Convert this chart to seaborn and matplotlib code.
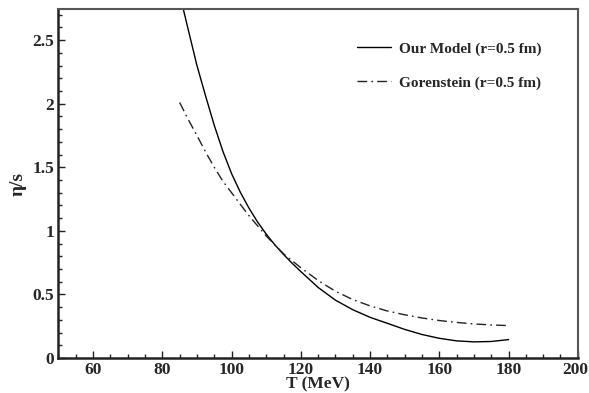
import numpy as np
import pandas as pd
import matplotlib
matplotlib.use("Agg")
import matplotlib.pyplot as plt
import matplotlib.transforms as mtransforms
from matplotlib.ticker import MultipleLocator
import seaborn as sns

# Data
T_model = [85, 86, 87.5, 90, 92.5, 95, 97.5, 100, 102.5, 105, 107.5, 110, 112.5,
           115, 117.5, 120, 125, 130, 135, 140, 145, 150, 155, 160, 165, 170,
           175, 180]
eta_model = [2.85, 2.75, 2.58, 2.30, 2.06, 1.83, 1.625, 1.45, 1.305, 1.18, 1.07,
             0.975, 0.89, 0.815, 0.745, 0.68, 0.555, 0.455, 0.38, 0.32, 0.273,
             0.225, 0.185, 0.155, 0.135, 0.127, 0.13, 0.145]

T_gor = [85, 87.5, 90, 92.5, 95, 97.5, 100, 105, 110, 115, 120, 125, 130, 135,
         140, 145, 150, 155, 160, 165, 170, 175, 180]
eta_gor = [2.01, 1.875, 1.75, 1.62, 1.50, 1.39, 1.30, 1.12, 0.96, 0.82, 0.71,
           0.61, 0.525, 0.46, 0.41, 0.37, 0.34, 0.315, 0.295, 0.28, 0.268,
           0.26, 0.255]

label_model = "Our Model (r=0.5 fm)"
label_gor = "Gorenstein (r=0.5 fm)"

df = pd.concat([
    pd.DataFrame({"T": T_model, "eta": eta_model, "series": label_model}),
    pd.DataFrame({"T": T_gor, "eta": eta_gor, "series": label_gor}),
])

sns.set_style("ticks")
plt.rcParams["font.family"] = ["Liberation Serif", "DejaVu Serif"]
plt.rcParams["font.weight"] = "bold"

fig = plt.figure(figsize=(5.89, 3.93), dpi=100)
ax = fig.add_axes([0.0993, 0.089, 0.8817, 0.888])

sns.lineplot(data=df, x="T", y="eta", hue="series", style="series",
             palette={label_model: "black", label_gor: "#222222"},
             dashes={label_model: "", label_gor: (7, 3, 1.2, 3)},
             linewidth=1.0, ax=ax, sort=False, estimator=None)

ax.set_xlim(50, 200)
ax.set_ylim(0, 2.745)
ax.xaxis.set_minor_locator(MultipleLocator(5))
ax.yaxis.set_minor_locator(MultipleLocator(0.1))
ax.set_xticks([60, 80, 100, 120, 140, 160, 180, 200])
ax.set_xticklabels(["60", "80", "100", "120", "140", "160", "180", "200"])
ax.set_yticks([0, 0.5, 1, 1.5, 2, 2.5])
ax.set_yticklabels(["0", "0.5", "1", "1.5", "2", "2.5"])

ax.tick_params(which="both", direction="in", top=False, right=False,
               labelsize=12.5, pad=3, color="#222222")
ax.tick_params(which="major", length=5, width=1.0)
ax.tick_params(which="minor", length=3, width=1.0)
for lab in ax.get_xticklabels() + ax.get_yticklabels():
    lab.set_fontweight("bold")

# nudge the last x tick label slightly left so it stays inside the figure
last = ax.get_xticklabels()[-1]
last.set_transform(last.get_transform() +
                   mtransforms.ScaledTranslation(-3 / 100, 0, fig.dpi_scale_trans))

for side in ["left", "bottom"]:
    ax.spines[side].set_linewidth(1.8)
    ax.spines[side].set_color("#222222")
for side in ["top", "right"]:
    ax.spines[side].set_visible(True)
    ax.spines[side].set_linewidth(1.5)
    ax.spines[side].set_color("#555555")

ax.set_xlabel("T (MeV)", fontsize=12.5, fontweight="bold", labelpad=-1)
ax.set_ylabel("η/s", fontsize=14, fontweight="bold", labelpad=4)

leg = ax.legend(loc="upper left", bbox_to_anchor=(0.549, 0.945), frameon=False,
                fontsize=11, handlelength=2.2, handletextpad=0.55,
                labelspacing=1.3, title=None)
for t in leg.get_texts():
    t.set_fontweight("bold")

fig.savefig("out.png", dpi=100)
